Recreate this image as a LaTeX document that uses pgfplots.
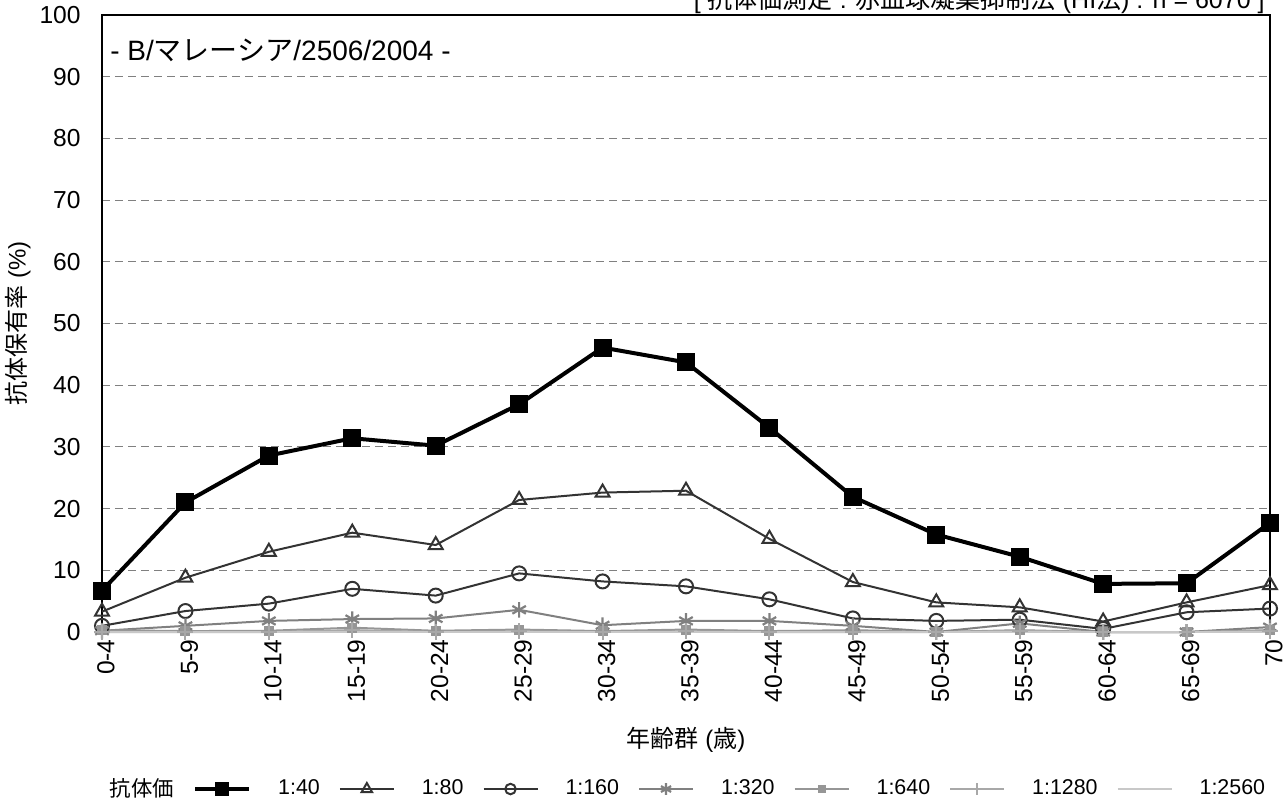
\documentclass[border=0pt]{standalone}
\usepackage{fontspec}
\setmainfont{Liberation Sans}
\newfontfamily\cjk{Noto Sans CJK JP}
\usepackage{pgfplots}
\pgfplotsset{compat=1.18}
\definecolor{dk}{HTML}{333333}
\definecolor{g1}{HTML}{808080}
\definecolor{g2}{HTML}{969696}
\definecolor{g3}{HTML}{A8A8A8}
\definecolor{g4}{HTML}{C8C8C8}
\begin{document}
\fontsize{10.5}{12.6}\selectfont
\begin{tikzpicture}
\begin{axis}[
  at={(0,0)}, anchor=south west,
  scale only axis, width=584pt, height=308.5pt,
  xmin=0, xmax=14, ymin=0, ymax=100,
  clip=false,
  xtick={0,...,14},
  xticklabels={0-4,5-9,10-14,15-19,20-24,25-29,30-34,35-39,40-44,45-49,50-54,55-59,60-64,65-69,70},
  ytick={0,10,...,100},
  major tick length=0pt,
  /pgf/number format/assume math mode=true,
  tick label style={font=\fontsize{12.3}{14}\selectfont},
  xticklabel style={rotate=90, anchor=east, xshift=0pt, yshift=-2pt},
  yticklabel style={xshift=-7pt},
  ymajorgrids,
  grid style={g1, line width=0.5pt, dash pattern=on 4pt off 2.5pt},
  axis line style={black, line width=0.6pt},
  xlabel={{\cjk 年齢群} ({\cjk 歳})},
  xlabel style={at={(axis description cs:0.5,0)}, anchor=center, yshift=-54pt, font=\fontsize{12}{14}\selectfont},
  ylabel={{\cjk 抗体保有率} (\%)},
  ylabel style={at={(axis description cs:-0.0719,0.5)}, anchor=center, font=\fontsize{12}{14}\selectfont},
  legend style={draw=none, fill=none, inner sep=0pt, outer sep=0pt,
    at={(axis description cs:0,-0.2545)}, anchor=west, xshift=-9.5pt,
    legend columns=8,
    /tikz/every odd column/.append style={column sep=13.5pt},
    /tikz/every even column/.append style={column sep=9.5pt},
    nodes={inner sep=0pt, font=\fontsize{10.7}{12.8}\selectfont}},
  legend image code/.code={\draw[mark repeat=2,mark phase=2,#1,every mark/.append style={scale=0.75}] plot coordinates {(0pt,0pt) (13.5pt,0pt) (27pt,0pt)};},
]
\addlegendimage{empty legend}
\addlegendentry{{\cjk 抗体価}\hspace{4pt}}

\addplot[black, line width=2pt, mark=square*, mark size=3.5pt, mark options={solid}] coordinates {
(0,6.7) (1,21.0) (2,28.6) (3,31.4) (4,30.2) (5,36.9) (6,46.1) (7,43.7) (8,33.1) (9,21.9) (10,15.8) (11,12.2) (12,7.8) (13,7.9) (14,17.7)};
\addlegendentry{1:40}

\addplot[dk, line width=1pt, mark=triangle, mark size=4pt, mark options={solid, line width=1pt}] coordinates {
(0,3.3) (1,8.8) (2,13.0) (3,16.1) (4,14.1) (5,21.4) (6,22.6) (7,22.9) (8,15.1) (9,8.1) (10,4.8) (11,4.0) (12,1.7) (13,4.8) (14,7.6)};
\addlegendentry{1:80}

\addplot[dk, line width=1pt, mark=o, mark size=3.5pt, mark options={solid, line width=1pt}] coordinates {
(0,1.0) (1,3.4) (2,4.6) (3,7.0) (4,5.9) (5,9.5) (6,8.2) (7,7.4) (8,5.3) (9,2.2) (10,1.8) (11,2.0) (12,0.5) (13,3.2) (14,3.8)};
\addlegendentry{1:160}

\addplot[g1, line width=1pt, mark=asterisk, mark size=3.9pt, mark options={solid, line width=1.1pt}] coordinates {
(0,0.2) (1,1.0) (2,1.8) (3,2.1) (4,2.2) (5,3.6) (6,1.1) (7,1.8) (8,1.8) (9,1.0) (10,0) (11,1.4) (12,0) (13,0) (14,0.8)};
\addlegendentry{1:320}

\addplot[g2, line width=1pt, mark=square*, mark size=2pt, mark options={solid}] coordinates {
(0,0.3) (1,0.15) (2,0.2) (3,0.7) (4,0.2) (5,0.4) (6,0.15) (7,0.4) (8,0.15) (9,0.3) (10,0) (11,0.3) (12,0) (13,0) (14,0.3)};
\addlegendentry{1:640}

\addplot[g3, line width=1pt, mark=+, mark size=4pt, mark options={solid, line width=1pt}] coordinates {
(0,0) (1,0) (2,0) (3,0.3) (4,0) (5,0.1) (6,0) (7,0.1) (8,0) (9,0) (10,0) (11,0.2) (12,0) (13,0) (14,0.2)};
\addlegendentry{1:1280}

\addplot[g4, line width=1pt] coordinates {
(0,0) (1,0) (2,0) (3,0) (4,0) (5,0) (6,0) (7,0) (8,0) (9,0) (10,0) (11,0) (12,0) (13,0) (14,0)};
\addlegendentry{1:2560}
\end{axis}
\node[anchor=west, inner sep=0pt, font=\fontsize{14}{16}\selectfont] at (4pt,291pt) {- B/{\cjk マレーシア}/2506/2004 -};
\node[anchor=base east, inner sep=0pt, font=\fontsize{12.5}{15}\selectfont] at (581.5pt,311.7pt) {[ {\cjk 抗体価測定} : {\cjk 赤血球凝集抑制法} (HI{\cjk 法}) : n = 6070 ]};
\pgfresetboundingbox
\useasboundingbox (-51pt,-86.5pt) rectangle (593pt,316pt);
\end{tikzpicture}
\end{document}
